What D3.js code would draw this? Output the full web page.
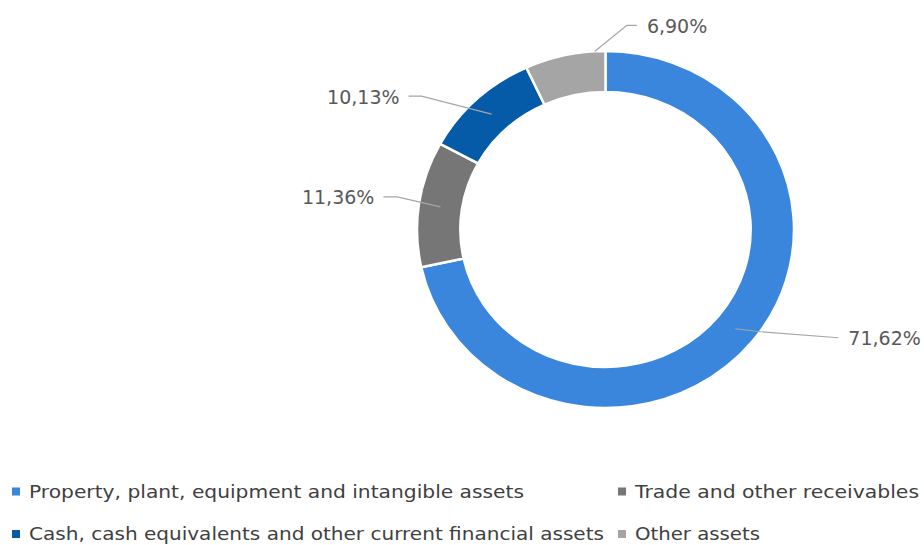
<!DOCTYPE html>
<html>
<head>
<meta charset="utf-8">
<script src="https://cdn.jsdelivr.net/npm/d3@7"></script>
<style>
  body { margin: 0; background: #fff; }
  svg { display: block; }
</style>
</head>
<body>
<div class="chart"></div>
<script>
// values
var categories = [
  'Property, plant, equipment and intangible assets',
  'Trade and other receivables',
  'Cash, cash equivalents and other current financial assets',
  'Other assets'
];
var shares = [71.62, 11.36, 10.13, 6.90];
var labels = ['71,62%', '11,36%', '10,13%', '6,90%'];
var colors = ['#3a86dc', '#767676', '#055ba8', '#a5a5a5'];

var width = 924, height = 545;
var cx = 605.5, cy = 229.5, sx = 1.056;
var outerR = 178.5, innerR = 137.5;

// where each leader starts (fraction through slice, radius) and bends
var leaders = [
  {f: 0.5,  r: 158,    elbow: [25, 3],    end: [103, 9],  side: 'right'},
  {f: 0.5,  r: 158,    elbow: [-43, -10], end: [-57, -10], side: 'left'},
  {f: 0.5,  r: 158,    elbow: [-70, -18], end: [-83, -18], side: 'left'},
  {f: 0.87, r: 178.5,  elbow: [32, -26],  end: [42, -26],  side: 'right'}
];

var svg = d3.select('.chart')
  .append('svg')
    .attr('width', width)
    .attr('height', height);

var pie = d3.pie().sort(null).value(d => d);
var arcs = pie(shares);

var arc = d3.arc().innerRadius(innerR).outerRadius(outerR);

var ring = svg.append('g')
    .attr('transform', `translate(${cx}, ${cy}) scale(${sx}, 1)`);

ring.selectAll('path')
  .data(arcs)
  .enter()
  .append('path')
    .attr('d', arc)
    .attr('fill', (d, i) => colors[i])
    .attr('stroke', '#fff')
    .attr('stroke-width', 2.5)
    .attr('vector-effect', 'non-scaling-stroke');

// leader lines + labels
var lbl = svg.append('g');
arcs.forEach(function(d, i) {
  var L = leaders[i];
  var a = d.startAngle + (d.endAngle - d.startAngle) * L.f;
  var x0 = cx + Math.sin(a) * L.r * sx;
  var y0 = cy - Math.cos(a) * L.r;
  var pts = [[x0, y0], [x0 + L.elbow[0], y0 + L.elbow[1]], [x0 + L.end[0], y0 + L.end[1]]];
  lbl.append('path')
    .attr('d', d3.line()(pts))
    .attr('fill', 'none')
    .attr('stroke', '#a6a6a6')
    .attr('stroke-width', 1.2);
  var right = L.side === 'right';
  lbl.append('text')
    .attr('x', pts[2][0] + (right ? 10 : -9))
    .attr('y', pts[2][1] + 1)
    .attr('dy', '0.35em')
    .attr('text-anchor', right ? 'start' : 'end')
    .style('font-family', 'DejaVu Sans, sans-serif')
    .style('font-size', '19px')
    .attr('fill', '#595959')
    .text(labels[i]);
});

// legend, two columns
var legendPos = [[12, 487.5], [618, 487.5], [12, 530], [618, 530]];
var legendW = [495, 284, 575, 125];
var legend = svg.append('g');
categories.forEach(function(name, k) {
  var p = legendPos[k];
  var item = legend.append('g').attr('transform', `translate(${p[0]}, ${p[1]})`);
  item.append('rect')
    .attr('width', 8).attr('height', 8)
    .attr('fill', colors[k]);
  item.append('text')
    .attr('x', 17)
    .attr('y', 4)
    .attr('dy', '0.35em')
    .attr('textLength', legendW[k])
    .attr('lengthAdjust', 'spacingAndGlyphs')
    .style('font-family', 'DejaVu Sans, sans-serif')
    .style('font-size', '18px')
    .attr('fill', '#404040')
    .text(name);
});
</script>
</body>
</html>
